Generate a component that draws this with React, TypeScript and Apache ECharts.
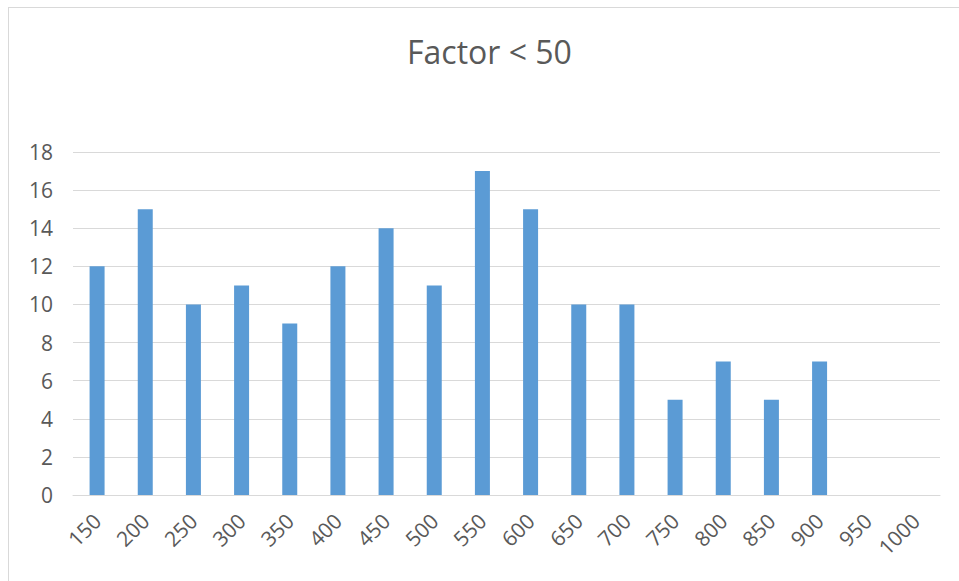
import React, { useEffect, useRef } from "react";
import * as echarts from "echarts";

const categories = ["150", "200", "250", "300", "350", "400", "450", "500", "550", "600", "650", "700", "750", "800", "850", "900", "950", "1000"];
const counts = [12, 15, 10, 11, 9, 12, 14, 11, 17, 15, 10, 10, 5, 7, 5, 7, null, null];
const titleText = "Factor < 50";

export default function App() {
  const ref = useRef<HTMLDivElement>(null);
  useEffect(() => {
    if (!ref.current) return;
    const chart = echarts.init(ref.current, null, { renderer: "svg" });
    chart.setOption({
      animation: false,
      backgroundColor: "#ffffff",
      title: {
        text: titleText,
        left: 402,
        top: 30,
        textStyle: { fontFamily: "Open Sans", fontSize: 32, fontWeight: "normal", color: "#595959" },
      },
      grid: { left: 73, right: 19, top: 152, bottom: 86 },
      xAxis: {
        type: "category",
        data: categories,
        axisLine: { show: true, lineStyle: { color: "#d9d9d9", width: 1 } },
        axisTick: { show: false },
        axisLabel: { rotate: 45, color: "#595959", fontFamily: "Open Sans", fontSize: 21, margin: 22, interval: 0 },
      },
      yAxis: {
        type: "value",
        min: 0,
        max: 18,
        interval: 2,
        axisLine: { show: false },
        axisTick: { show: false },
        splitLine: { lineStyle: { color: "#d9d9d9", width: 1 } },
        axisLabel: { color: "#595959", fontFamily: "Open Sans", fontSize: 21, margin: 20 },
      },
      series: [
        {
          type: "bar",
          data: counts,
          barWidth: 15,
          itemStyle: { color: "#5b9bd5" },
        },
      ],
    });
    return () => chart.dispose();
  }, []);
  return (
    <div style={{ position: "fixed", left: 0, top: 0, width: 959, height: 581, background: "#fff" }}>
      <div ref={ref} style={{ position: "absolute", left: 0, top: 0, width: 959, height: 581 }} />
      <div style={{ position: "absolute", left: 8, top: 7, width: 960, height: 600, borderLeft: "1px solid #d9d9d9", borderTop: "1px solid #d9d9d9", pointerEvents: "none" }} />
    </div>
  );
}
